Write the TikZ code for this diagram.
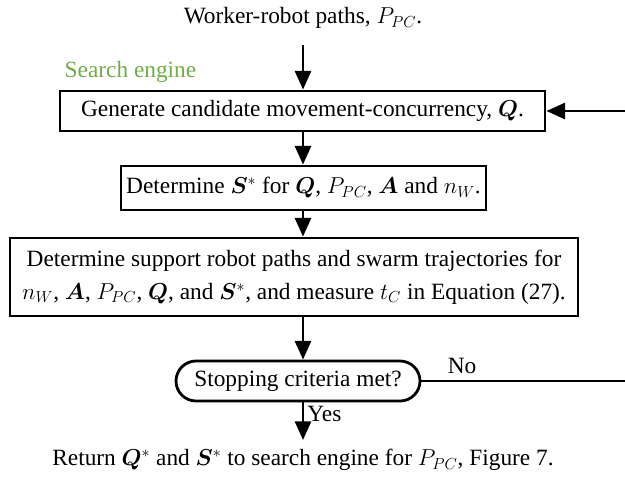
\documentclass[tikz,border=0pt]{standalone}
\usepackage{fontspec}
\usepackage{amsmath}
\usepackage{bm}
\setmainfont{Liberation Serif}
\usetikzlibrary{arrows.meta}
\definecolor{enginegreen}{RGB}{112,173,71}
\begin{document}
\begin{tikzpicture}[x=0.75pt,y=-0.75pt,
  font=\fontsize{17.5}{25}\selectfont,
  stepbox/.style={draw,line width=2.1pt,inner sep=0pt,align=center},
  flow/.style={line width=2pt,-{Triangle[length=14pt,width=12pt]}},
  plain/.style={line width=2pt}]
\useasboundingbox (0,0) rectangle (625,476);
% input text
\node (inp) at (303,18) {Worker-robot paths, $P_{PC}$.};
\node[text=enginegreen,anchor=west] (eng) at (60,72) {Search engine};
% process boxes
\node[stepbox,minimum width=485*0.75pt,minimum height=40*0.75pt] (gen) at (302.5,111)
  {Generate candidate movement-concurrency, $\bm{Q}$.};
\node[stepbox,minimum width=365*0.75pt,minimum height=44*0.75pt] (det) at (303.5,188)
  {Determine $\bm{S}^{*}$ for $\bm{Q}$, $P_{PC}$, $\bm{A}$ and $n_W$.};
\node[stepbox,minimum width=568*0.75pt,minimum height=78*0.75pt] (sup) at (294,277)
  {Determine support robot paths and swarm trajectories for\\
   $n_W$, $\bm{A}$, $P_{PC}$, $\bm{Q}$, and $\bm{S}^{*}$, and measure $t_C$ in Equation (27).};
\node[stepbox,rounded corners=20*0.75pt,minimum width=244*0.75pt,minimum height=40*0.75pt] (stop) at (298,381)
  {Stopping criteria met?};
\node (out) at (303,460) {Return $\bm{Q}^{*}$ and $\bm{S}^{*}$ to search engine for $P_{PC}$, Figure 7.};
% loop ends at the right margin
\coordinate (fbin) at (625,111);
\coordinate (fbout) at (625,381);
\coordinate (yes) at (303,440);
% connectors
\draw[flow] (303,45) -- (gen.north -| 303,0);
\draw[flow] (gen.south -| 303,0) -- (det.north -| 303,0);
\draw[flow] (det.south -| 303,0) -- (sup.north -| 303,0);
\draw[flow] (sup.south -| 303,0) -- (stop.north -| 303,0);
\draw[flow] (stop.south -| 303,0) -- (yes) node[pos=0.3,right=-1pt] {Yes};
\draw[plain] (stop.east) -- (stop.east -| fbout) node[pos=0.2,above=1pt] {No};
\draw[flow] (gen.east -| fbin) -- (gen.east);
\end{tikzpicture}
\end{document}
